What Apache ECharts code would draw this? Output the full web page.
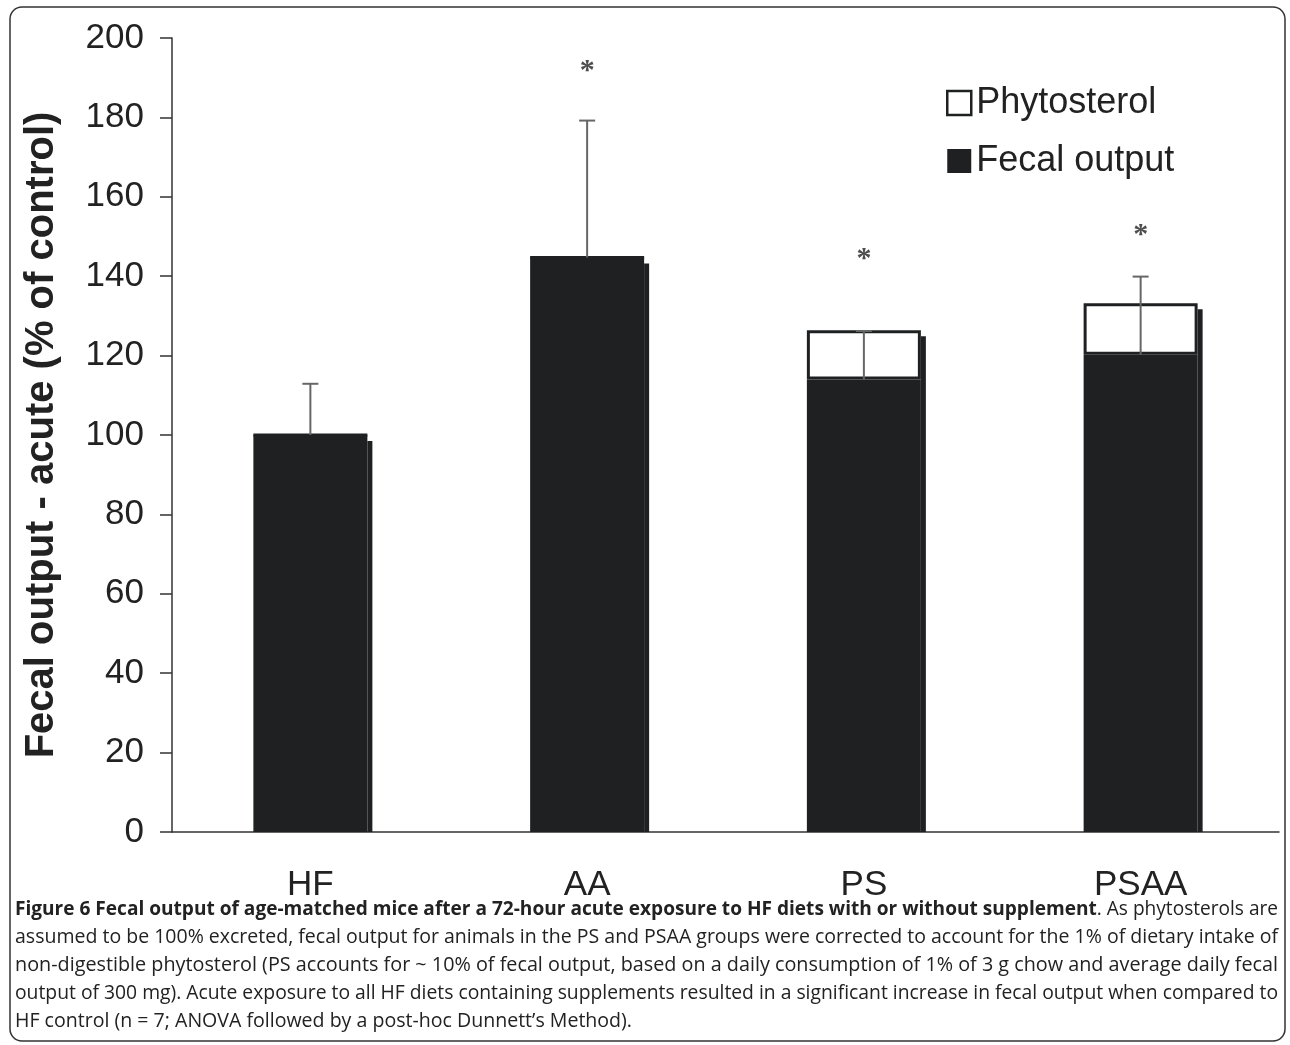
<!DOCTYPE html>
<html><head><meta charset="utf-8">
<script src="https://cdn.jsdelivr.net/npm/echarts@6/dist/echarts.min.js"></script>
<style>
html,body{margin:0;padding:0;background:#fff;}
#chart{position:absolute;left:0;top:0;width:1290px;height:1045px;}
.cap{position:absolute;left:15px;font-family:'Open Sans',sans-serif;font-size:20px;color:#222;white-space:nowrap;line-height:28px;transform-origin:0 0;}
</style></head>
<body>
<div id="chart"></div>
<div class="cap" data-fit="1263" style="top:894px"><b>Figure 6 Fecal output of age-matched mice after a 72-hour acute exposure to HF diets with or without supplement</b>. As phytosterols are</div>
<div class="cap" data-fit="1263" style="top:922px">assumed to be 100% excreted, fecal output for animals in the PS and PSAA groups were corrected to account for the 1% of dietary intake of</div>
<div class="cap" data-fit="1263" style="top:950px">non-digestible phytosterol (PS accounts for ~ 10% of fecal output, based on a daily consumption of 1% of 3 g chow and average daily fecal</div>
<div class="cap" data-fit="1263" style="top:978px">output of 300 mg). Acute exposure to all HF diets containing supplements resulted in a significant increase in fecal output when compared to</div>
<div class="cap" data-fit="617" style="top:1006px">HF control (n = 7; ANOVA followed by a post-hoc Dunnett’s Method).</div>
<script>
var categories = ['HF', 'AA', 'PS', 'PSAA'];
var fecalOutput = [100, 144.7, 114, 120.2];
var phytosterol = [0, 0, 12.4, 13.0];
var errorTop = [112.9, 179.2, 126.2, 139.9];
var starValues = [null, 193.2, 145.9, 151.8];
var yTicks = {min: 0, max: 200, interval: 20};

document.querySelectorAll('.cap').forEach(function (el) {
  var w = el.getBoundingClientRect().width;
  var target = parseFloat(el.getAttribute('data-fit'));
  el.style.transform = 'scaleX(' + (target / w) + ')';
});

var chart = echarts.init(document.getElementById('chart'));
var dark = '#1f2022';
var txt = '#222';
var font = 'Liberation Sans, Arial, sans-serif';
var BW = 114;

chart.setOption({
  animation: false,
  backgroundColor: '#fff',
  textStyle: {fontFamily: font},
  grid: {left: 172, right: 11, top: 38, bottom: 213, containLabel: false},
  legend: {
    orient: 'vertical', left: 941, top: 78,
    itemWidth: 24, itemHeight: 24, itemGap: 18,
    textStyle: {fontSize: 36, color: txt, fontFamily: font, lineHeight: 40},
    data: [
      {name: 'Phytosterol', icon: 'rect', itemStyle: {color: '#fff', borderColor: dark, borderWidth: 2.5}},
      {name: 'Fecal output', icon: 'rect', itemStyle: {color: dark}}
    ]
  },
  xAxis: {
    type: 'category', data: categories,
    axisLine: {lineStyle: {color: '#333', width: 1.5}},
    axisTick: {show: false},
    axisLabel: {fontSize: 35, color: txt, margin: 36, fontFamily: font}
  },
  yAxis: {
    type: 'value', min: yTicks.min, max: yTicks.max, interval: yTicks.interval,
    name: 'Fecal output - acute (% of control)', nameLocation: 'middle', nameGap: 110,
    nameTextStyle: {fontSize: 40, fontWeight: 'bold', color: txt, fontFamily: font},
    axisLine: {show: true, lineStyle: {color: '#333', width: 1.5}},
    axisTick: {show: true, length: 12, lineStyle: {color: '#333', width: 1.5}},
    axisLabel: {fontSize: 35, color: txt, margin: 28, fontFamily: font},
    splitLine: {show: false}
  },
  series: [
    {
      name: 'shadow', type: 'custom', z: 1, silent: true,
      data: categories.map(function (c, i) { return [i, fecalOutput[i] + phytosterol[i]]; }),
      renderItem: function (params, api) {
        var top = api.coord([api.value(0), api.value(1)]);
        var base = api.coord([api.value(0), 0]);
        return {type: 'rect', shape: {x: top[0] + BW / 2, y: top[1] + 6, width: 5, height: base[1] - top[1] - 6}, style: {fill: dark}};
      }
    },
    {
      name: 'Fecal output', type: 'bar', stack: 's', barWidth: BW,
      data: fecalOutput,
      itemStyle: {color: dark}, z: 2
    },
    {
      name: 'Phytosterol', type: 'bar', stack: 's', barWidth: BW,
      data: phytosterol,
      itemStyle: {color: '#fff', borderColor: dark, borderWidth: 3}, z: 3
    },
    {
      name: 'error', type: 'custom', z: 4, silent: true,
      data: categories.map(function (c, i) { return [i, fecalOutput[i], errorTop[i]]; }),
      renderItem: function (params, api) {
        var lo = api.coord([api.value(0), api.value(1)]);
        var hi = api.coord([api.value(0), api.value(2)]);
        var style = {stroke: '#666', lineWidth: 2};
        return {type: 'group', children: [
          {type: 'line', shape: {x1: lo[0], y1: lo[1], x2: hi[0], y2: hi[1]}, style: style},
          {type: 'line', shape: {x1: hi[0] - 8, y1: hi[1], x2: hi[0] + 8, y2: hi[1]}, style: style}
        ]};
      }
    },
    {
      name: 'stars', type: 'scatter', symbolSize: 1, itemStyle: {color: 'transparent'}, z: 5,
      data: starValues.map(function (v, i) { return v == null ? null : [i, v]; }),
      label: {show: true, position: 'inside', formatter: '*', fontSize: 30, fontWeight: 'bold', color: txt, fontFamily: 'Liberation Serif, serif', offset: [0, 6]}
    }
  ],
  graphic: [
    {type: 'rect', shape: {x: 10, y: 7, width: 1275, height: 1034, r: 12}, style: {fill: 'none', stroke: '#333', lineWidth: 1.5}, z: -1}
  ]
});
</script>
</body></html>
